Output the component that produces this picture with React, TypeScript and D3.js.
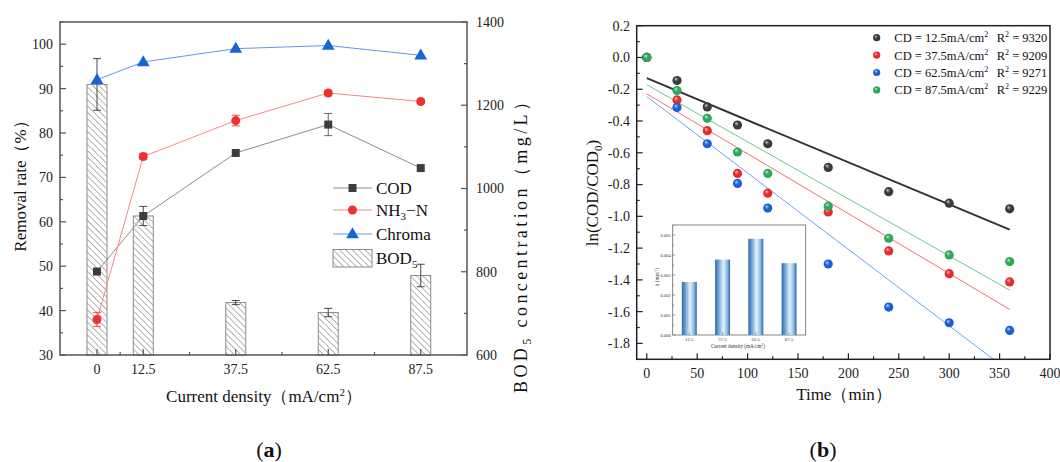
import React from "react";
import * as d3 from "d3";

// ---------- Panel (a) data ----------
const currentDensity = [0, 12.5, 37.5, 62.5, 87.5];
const densityTickLabels = ["0", "12.5", "37.5", "62.5", "87.5"];
const densityMinorTicks = [6.25, 25, 50, 75];
const codRemoval = [48.8, 61.3, 75.5, 81.9, 72.1];
const codErr = [0, 0, 0, 2.5, 0];
const nh3Removal = [38.0, 74.7, 82.8, 89.0, 87.1];
const nh3Err = [1.6, 0.7, 1.2, 0.6, 0];
const chromaRemoval = [92.0, 96.0, 99.0, 99.7, 97.5];
const bod5 = [1250, 934, 726, 702, 791];
const bod5Err = [62, 23, 5, 10, 27];
const removalTicks = [30, 40, 50, 60, 70, 80, 90, 100];
const bodTicks = [600, 800, 1000, 1200, 1400];

// ---------- Panel (b) data ----------
const time = [0, 30, 60, 90, 120, 180, 240, 300, 360];
const lnCD125 = [0, -0.145, -0.311, -0.425, -0.543, -0.692, -0.845, -0.917, -0.953];
const lnCD375 = [0, -0.267, -0.461, -0.73, -0.854, -0.972, -1.218, -1.361, -1.413];
const lnCD625 = [0, -0.315, -0.543, -0.793, -0.948, -1.3, -1.571, -1.67, -1.718];
const lnCD875 = [0, -0.208, -0.383, -0.595, -0.73, -0.936, -1.138, -1.243, -1.285];
const cdLabels = ["12.5", "37.5", "62.5", "87.5"];
const r2Labels = ["9320", "9209", "9271", "9229"];
const rateK = [0.00265, 0.00377, 0.00481, 0.00359];
const fitIntercept = [-0.13, -0.229, -0.246, -0.172];
const timeTicks = [0, 50, 100, 150, 200, 250, 300, 350, 400];
const lnTicks = [0.2, 0, -0.2, -0.4, -0.6, -0.8, -1.0, -1.2, -1.4, -1.6, -1.8];
const kTicks = [0, 0.001, 0.002, 0.003, 0.004, 0.005];

const SERIF = "'Liberation Serif', 'Times New Roman', serif";

const ballColors = [
  { base: "#3a3a3a", light: "#c8c8c8", line: "#333333", w: 2 },
  { base: "#e52b2b", light: "#ffc0c0", line: "#f07070", w: 1 },
  { base: "#1b5fd6", light: "#b8d4ff", line: "#6aa6ea", w: 1 },
  { base: "#2fa65a", light: "#b8f0cc", line: "#6cc88c", w: 1 },
];

export default function App() {
  const xA = d3.scaleLinear().domain([-10, 100]).range([60, 467]);
  const yL = d3.scaleLinear().domain([30, 105]).range([355, 22]);
  const yR = d3.scaleLinear().domain([600, 1400]).range([355, 22]);
  const xB = d3.scaleLinear().domain([-10, 400]).range([636.7, 1050]);
  const yB = d3.scaleLinear().domain([-1.9, 0.2]).range([359.3, 25.7]);
  const xI = d3.scaleBand<string>().domain(cdLabels).range([672.7, 805.7]);
  const yI = d3.scaleLinear().domain([0, 0.0055]).range([335, 225]);

  const lineA = d3
    .line<number>()
    .x((_, i) => xA(currentDensity[i]))
    .y((d) => yL(d));

  const aL = 60, aR = 467, aT = 22, aB = 355;
  const bL = 636.7, bR = 1050, bT = 25.7, bBt = 359.3;
  const iL = 672.7, iR = 805.7, iT = 225, iB = 335;

  const seriesB = [lnCD125, lnCD375, lnCD625, lnCD875];
  const barW = 20;

  const tri = (cx: number, cy: number, s: number) =>
    `M${cx},${cy - s * 0.62} L${cx + s * 0.58},${cy + s * 0.38} L${cx - s * 0.58},${cy + s * 0.38} Z`;

  return (
    <svg
      width={1060}
      height={462}
      style={{ position: "absolute", left: 0, top: 0, background: "#fff" }}
      fontFamily={SERIF}
    >
      <defs>
        <pattern id="hatch" patternUnits="userSpaceOnUse" width="4.5" height="4.5" patternTransform="rotate(-45)">
          <rect width="4.5" height="4.5" fill="#fff" />
          <line x1="0" y1="0" x2="0" y2="4.5" stroke="#444" strokeWidth="0.8" />
        </pattern>
        {ballColors.map((c, i) => (
          <radialGradient key={i} id={`ball${i}`} cx="50%" cy="50%" r="55%" fx="35%" fy="30%">
            <stop offset="0%" stopColor={c.light} />
            <stop offset="45%" stopColor={c.base} />
            <stop offset="100%" stopColor={c.base} />
          </radialGradient>
        ))}
        <linearGradient id="cyl" x1="0" x2="1" y1="0" y2="0">
          <stop offset="0%" stopColor="#2c68a8" />
          <stop offset="18%" stopColor="#5d95cb" />
          <stop offset="55%" stopColor="#e2f1fd" />
          <stop offset="80%" stopColor="#8fbde4" />
          <stop offset="100%" stopColor="#2c68a8" />
        </linearGradient>
        <clipPath id="clipB">
          <rect x={bL} y={bT} width={bR - bL} height={bBt - bT} />
        </clipPath>
      </defs>

      {/* ================= Panel (a) ================= */}
      {bod5.map((v, i) => (
        <rect
          key={`bar${i}`}
          x={xA(currentDensity[i]) - barW / 2}
          y={yR(v)}
          width={barW}
          height={aB - yR(v)}
          fill="url(#hatch)"
          stroke="#8a8a8a"
          strokeWidth={1}
        />
      ))}
      {bod5.map((v, i) => {
        const x = xA(currentDensity[i]);
        const y1 = yR(v + bod5Err[i]);
        const y2 = yR(v - bod5Err[i]);
        return (
          <g key={`be${i}`} stroke="#333" strokeWidth={0.9}>
            <line x1={x} x2={x} y1={y1} y2={y2} />
            <line x1={x - 4} x2={x + 4} y1={y1} y2={y1} />
            <line x1={x - 4} x2={x + 4} y1={y2} y2={y2} />
          </g>
        );
      })}

      <path d={lineA(codRemoval) || ""} fill="none" stroke="#8c8c8c" strokeWidth={1} />
      <path d={lineA(nh3Removal) || ""} fill="none" stroke="#f28a8a" strokeWidth={1} />
      <path d={lineA(chromaRemoval) || ""} fill="none" stroke="#5f98e6" strokeWidth={1} />

      {[
        { vals: codRemoval, err: codErr, c: "#555" },
        { vals: nh3Removal, err: nh3Err, c: "#e04040" },
      ].map((s, si) =>
        s.vals.map((v, i) => {
          if (!s.err[i]) return null;
          const x = xA(currentDensity[i]);
          const y1 = yL(v + s.err[i]);
          const y2 = yL(v - s.err[i]);
          return (
            <g key={`pe${si}-${i}`} stroke={s.c} strokeWidth={0.9}>
              <line x1={x} x2={x} y1={y1} y2={y2} />
              <line x1={x - 4} x2={x + 4} y1={y1} y2={y1} />
              <line x1={x - 4} x2={x + 4} y1={y2} y2={y2} />
            </g>
          );
        })
      )}

      {codRemoval.map((v, i) => (
        <rect key={`cm${i}`} x={xA(currentDensity[i]) - 4} y={yL(v) - 4} width={8} height={8} fill="#3d3d3d" />
      ))}
      {nh3Removal.map((v, i) => (
        <circle key={`nm${i}`} cx={xA(currentDensity[i])} cy={yL(v)} r={4.5} fill="#ee3030" />
      ))}
      {chromaRemoval.map((v, i) => (
        <path key={`tm${i}`} d={tri(xA(currentDensity[i]), yL(v), 11)} fill="#1565d8" />
      ))}

      <rect x={aL} y={aT} width={aR - aL} height={aB - aT} fill="none" stroke="#555" strokeWidth={1.5} />

      {removalTicks.map((t) => (
        <g key={`lt${t}`}>
          <line x1={aL} x2={aL + 6} y1={yL(t)} y2={yL(t)} stroke="#555" strokeWidth={1.2} />
          <text x={53} y={yL(t)} dy="0.35em" textAnchor="end" fontSize={14} fill="#222">
            {t}
          </text>
        </g>
      ))}
      {removalTicks.map((t) => (
        <line key={`lm${t}`} x1={aL} x2={aL + 3} y1={yL(t + 5)} y2={yL(t + 5)} stroke="#555" strokeWidth={1.2} />
      ))}
      {bodTicks.map((t) => (
        <g key={`rt${t}`}>
          <line x1={aR} x2={aR - 6} y1={yR(t)} y2={yR(t)} stroke="#555" strokeWidth={1.2} />
          <text x={476} y={yR(t)} dy="0.35em" textAnchor="start" fontSize={14} fill="#222">
            {t}
          </text>
        </g>
      ))}
      {bodTicks.slice(0, -1).map((t) => (
        <line key={`rm${t}`} x1={aR} x2={aR - 3} y1={yR(t + 100)} y2={yR(t + 100)} stroke="#555" strokeWidth={1.2} />
      ))}
      {currentDensity.map((t, i) => (
        <g key={`xt${i}`}>
          <line x1={xA(t)} x2={xA(t)} y1={aB} y2={aB - 6} stroke="#555" strokeWidth={1.2} />
          <text x={xA(t)} y={374} textAnchor="middle" fontSize={14} fill="#222">
            {densityTickLabels[i]}
          </text>
        </g>
      ))}
      {densityMinorTicks.map((t) => (
        <line key={`xm${t}`} x1={xA(t)} x2={xA(t)} y1={aB} y2={aB - 3} stroke="#555" strokeWidth={1.2} />
      ))}

      <text x={264} y={402} textAnchor="middle" fontSize={17} fill="#111">
        Current density（mA/cm
        <tspan dy={-6} fontSize={11}>2</tspan>
        <tspan dy={6}>）</tspan>
      </text>
      <text transform="translate(26,182) rotate(-90)" textAnchor="middle" fontSize={17} fill="#111">
        Removal rate（%）
      </text>
      <text
        transform="translate(527,243) rotate(-90)"
        textAnchor="middle"
        fontSize={18}
        fill="#111"
        textLength={300}
        lengthAdjust="spacing"
      >
        BOD<tspan dy={4} fontSize={12}>5</tspan>
        <tspan dy={-4}> concentration（mg/L）</tspan>
      </text>

      <g>
        <line x1={333} x2={372} y1={188} y2={188} stroke="#8c8c8c" />
        <rect x={348.5} y={184} width={8} height={8} fill="#3d3d3d" />
        <text x={376} y={194} fontSize={17} fill="#111">COD</text>
        <line x1={333} x2={372} y1={210} y2={210} stroke="#f28a8a" />
        <circle cx={352.5} cy={210} r={4.5} fill="#ee3030" />
        <text x={376} y={216} fontSize={17} fill="#111">
          NH<tspan dy={4} fontSize={11}>3</tspan>
          <tspan dy={-4}>−N</tspan>
        </text>
        <line x1={333} x2={372} y1={234} y2={234} stroke="#5f98e6" />
        <path d={tri(352.5, 234, 11)} fill="#1565d8" />
        <text x={376} y={240} fontSize={17} fill="#111">Chroma</text>
        <rect x={333} y={249.5} width={39} height={17.5} fill="url(#hatch)" stroke="#8a8a8a" />
        <text x={376} y={264} fontSize={17} fill="#111">
          BOD<tspan dy={4} fontSize={11}>5</tspan>
        </text>
      </g>

      <text x={269} y={457} textAnchor="middle" fontSize={22} fill="#111">
        (<tspan fontWeight="bold">a</tspan>)
      </text>

      {/* ================= Panel (b) ================= */}
      <g clipPath="url(#clipB)">
        {rateK.map((k, i) => (
          <line
            key={`fit${i}`}
            x1={xB(0)}
            y1={yB(fitIntercept[i])}
            x2={xB(360)}
            y2={yB(fitIntercept[i] - k * 360)}
            stroke={ballColors[i].line}
            strokeWidth={ballColors[i].w}
          />
        ))}
      </g>
      {seriesB.map((s, si) =>
        s.map((v, i) => (
          <circle key={`p${si}-${i}`} cx={xB(time[i])} cy={yB(v)} r={4.6} fill={`url(#ball${si})`} />
        ))
      )}

      <rect x={bL} y={bT} width={bR - bL} height={bBt - bT} fill="none" stroke="#222" strokeWidth={1.5} />
      {lnTicks.map((t) => (
        <g key={`bl${t}`}>
          <line x1={bL} x2={bL + 6} y1={yB(t)} y2={yB(t)} stroke="#222" strokeWidth={1.2} />
          <text x={630} y={yB(t)} dy="0.35em" textAnchor="end" fontSize={14} fill="#222">
            {d3.format(".1f")(t).replace("−", "-")}
          </text>
        </g>
      ))}
      {lnTicks.slice(1).map((t) => (
        <line key={`blm${t}`} x1={bL} x2={bL + 3} y1={yB(t + 0.1)} y2={yB(t + 0.1)} stroke="#222" strokeWidth={1.2} />
      ))}
      {timeTicks.map((t) => (
        <g key={`bx${t}`}>
          <line x1={xB(t)} x2={xB(t)} y1={bBt} y2={bBt - 6} stroke="#222" strokeWidth={1.2} />
          <text x={xB(t)} y={378} textAnchor="middle" fontSize={14} fill="#222">
            {t}
          </text>
        </g>
      ))}
      {timeTicks.slice(0, -1).map((t) => (
        <line key={`bxm${t}`} x1={xB(t + 25)} x2={xB(t + 25)} y1={bBt} y2={bBt - 3} stroke="#222" strokeWidth={1.2} />
      ))}

      <text x={844} y={400} textAnchor="middle" fontSize={17} fill="#111">
        Time（min）
      </text>
      <text transform="translate(598,193) rotate(-90)" textAnchor="middle" fontSize={17} fill="#111">
        ln(COD/COD<tspan dy={4} fontSize={11}>0</tspan>
        <tspan dy={-4}>)</tspan>
      </text>

      {cdLabels.map((c, i) => {
        const y = 37.7 + i * 17.4;
        return (
          <g key={`lg${i}`}>
            <circle cx={876.7} cy={y} r={3.6} fill={`url(#ball${i})`} />
            <text x={894.3} y={y + 4.5} fontSize={12.5} fill="#111">
              CD = {c}mA/cm<tspan dy={-5} fontSize={8}>2</tspan>
            </text>
            <text x={996.7} y={y + 4.5} fontSize={12.5} fill="#111">
              R<tspan dy={-5} fontSize={8}>2</tspan>
              <tspan dy={5}> = {r2Labels[i]}</tspan>
            </text>
          </g>
        );
      })}

      <rect x={iL} y={iT} width={iR - iL} height={iB - iT} fill="#fff" stroke="#666" strokeWidth={0.8} />
      {rateK.map((k, i) => {
        const bw = xI.bandwidth() * 0.45;
        const cx = (xI(cdLabels[i]) || 0) + xI.bandwidth() / 2;
        return <rect key={`ib${i}`} x={cx - bw / 2} y={yI(k)} width={bw} height={iB - yI(k)} fill="url(#cyl)" />;
      })}
      {kTicks.map((t) => (
        <g key={`ik${t}`}>
          <line x1={iL} x2={iL + 2.5} y1={yI(t)} y2={yI(t)} stroke="#666" strokeWidth={0.6} />
          <text x={iL - 2} y={yI(t)} dy="0.35em" textAnchor="end" fontSize={4.5} fill="#333">
            {d3.format(".3f")(t)}
          </text>
        </g>
      ))}
      {kTicks.map((t) => (
        <line key={`ikm${t}`} x1={iL} x2={iL + 1.5} y1={yI(t + 0.0005)} y2={yI(t + 0.0005)} stroke="#666" strokeWidth={0.6} />
      ))}
      {cdLabels.map((c) => {
        const cx = (xI(c) || 0) + xI.bandwidth() / 2;
        return (
          <g key={`ix${c}`}>
            <line x1={cx} x2={cx} y1={iB} y2={iB - 2.5} stroke="#666" strokeWidth={0.6} />
            <text x={cx} y={341} textAnchor="middle" fontSize={4.8} fill="#333">
              {c}
            </text>
          </g>
        );
      })}
      <text x={738} y={348} textAnchor="middle" fontSize={5.2} fill="#333">
        Current density  (mA/cm<tspan dy={-2} fontSize={3.5}>2</tspan>
        <tspan dy={2}>)</tspan>
      </text>
      <text transform="translate(659,277) rotate(-90)" textAnchor="middle" fontSize={5.2} fill="#333">
        k  (min<tspan dy={-2} fontSize={3.5}>-1</tspan>
        <tspan dy={2}>)</tspan>
      </text>

      <text x={823} y={457} textAnchor="middle" fontSize={22} fill="#111">
        (<tspan fontWeight="bold">b</tspan>)
      </text>
    </svg>
  );
}
